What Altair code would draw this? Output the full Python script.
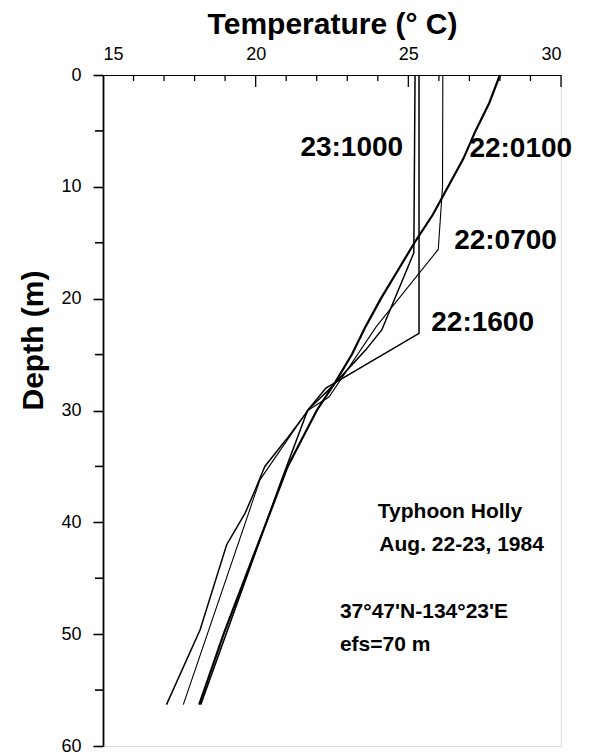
import altair as alt
import pandas as pd

# ---- data ----
depth_0100 = [0, 2.5, 5, 7.5, 10, 12.5, 15, 17.5, 20, 22.5, 25, 27.5, 30, 35, 40, 45, 50, 56.3]
temp_0100 = [28.0, 27.65, 27.2, 26.8, 26.3, 25.8, 25.2, 24.65, 24.1, 23.6, 23.15, 22.6, 22.0, 21.05, 20.35, 19.65, 18.95, 18.15]

depth_0700 = [0, 10, 15.6, 18.0, 22.5, 28.8, 30.0, 36.2, 56.3]
temp_0700 = [26.13, 26.12, 25.98, 25.27, 23.95, 22.4, 21.7, 20.14, 17.63]

depth_1600 = [0, 23.1, 28.0, 30.0, 36.2, 56.3]
temp_1600 = [25.35, 25.35, 22.3, 21.7, 20.85, 18.2]

depth_1000 = [0, 15.9, 22.8, 24.6, 28.0, 29.7, 32.6, 35.0, 37.0, 39.2, 42.0, 49.6, 56.3]
temp_1000 = [25.22, 25.18, 24.13, 23.6, 22.45, 21.8, 21.0, 20.3, 20.0, 19.65, 19.05, 18.18, 17.08]

profiles = [
    ("22:0100", depth_0100, temp_0100, 2.2),
    ("22:0700", depth_0700, temp_0700, 1.1),
    ("22:1600", depth_1600, temp_1600, 1.5),
    ("23:1000", depth_1000, temp_1000, 1.5),
]

x_major = [15, 20, 25, 30]
x_minor = list(range(15, 31))
y_major = [0, 10, 20, 30, 40, 50, 60]
y_minor = [5, 15, 25, 35, 45, 55]

label_text = ["23:1000", "22:0100", "22:0700", "22:1600"]
label_temp = [24.83, 27.0, 26.5, 25.75]
label_depth = [6.5, 6.6, 14.8, 22.2]
label_align = ["right", "left", "left", "left"]

note_text = ["Typhoon Holly", "Aug. 22-23, 1984", "37°47'N-134°23'E", "efs=70 m"]
note_temp = [24.0, 24.05, 22.76, 22.76]
note_depth = [39.1, 42.0, 48.0, 51.0]

FONT = "Liberation Sans"

rows = []
for name, ds, ts, w in profiles:
    for i, (d, t) in enumerate(zip(ds, ts)):
        rows.append({"profile": name, "depth": d, "temp": t, "order": i, "w": w})
df = pd.DataFrame(rows)

xscale = alt.Scale(domain=[15, 30], nice=False, zero=False)
yscale = alt.Scale(domain=[0, 60], reverse=True, nice=False, zero=False)

base_x = alt.X("temp:Q", scale=xscale,
               axis=alt.Axis(orient="top", values=x_major, title="Temperature (° C)",
                             tickSize=0, labelPadding=12, labelFontSize=18,
                             labelFont=FONT, titleFont=FONT, titleFontSize=30,
                             titleFontWeight="bold", titlePadding=6,
                             domainColor="black", domainWidth=1.2, labelColor="black",
                             titleColor="black", grid=False))
base_y = alt.Y("depth:Q", scale=yscale,
               axis=alt.Axis(values=y_major, title="Depth (m)", tickSize=10,
                             tickColor="black", tickWidth=1.6, labelPadding=12,
                             labelFontSize=18, labelFont=FONT, titleFont=FONT,
                             titleFontSize=30, titleFontWeight="bold",
                             titleX=-55, titleY=265, titleAlign="center",
                             domainColor="black", domainWidth=1.8,
                             labelColor="black", titleColor="black", grid=False))

lines = []
for name, ds, ts, w in profiles:
    sub = df[df.profile == name]
    lines.append(
        alt.Chart(sub).mark_line(color="black", strokeWidth=w, clip=False).encode(
            x=base_x, y=base_y, order="order:Q"
        )
    )

# inward ticks on top axis
xt_major = alt.Chart(pd.DataFrame({"t": x_major[1:]})).mark_rule(color="black", strokeWidth=1.3).encode(
    x=alt.X("t:Q", scale=xscale), y=alt.value(0), y2=alt.value(12))
xt_minor = alt.Chart(pd.DataFrame({"t": [v for v in x_minor if v not in x_major]})).mark_rule(
    color="black", strokeWidth=1.3).encode(
    x=alt.X("t:Q", scale=xscale), y=alt.value(0), y2=alt.value(6))
# minor ticks on depth axis
yt_minor = alt.Chart(pd.DataFrame({"d": y_minor})).mark_rule(color="black", strokeWidth=1.6).encode(
    y=alt.Y("d:Q", scale=yscale), x=alt.value(-8), x2=alt.value(0))

lab_df = pd.DataFrame({"text": label_text, "temp": label_temp,
                       "depth": label_depth, "align": label_align})
labels = alt.Chart(lab_df).transform_filter(
    "datum.align == 'left'").mark_text(font=FONT, fontSize=28, fontWeight="bold",
                                          align="left", baseline="middle", color="black").encode(
    x=alt.X("temp:Q", scale=xscale), y=alt.Y("depth:Q", scale=yscale), text="text:N")
labels_r = alt.Chart(lab_df).transform_filter(
    "datum.align == 'right'").mark_text(font=FONT, fontSize=28, fontWeight="bold",
                                           align="right", baseline="middle", color="black").encode(
    x=alt.X("temp:Q", scale=xscale), y=alt.Y("depth:Q", scale=yscale), text="text:N")

notes = alt.Chart(pd.DataFrame({"text": note_text, "temp": note_temp, "depth": note_depth})).mark_text(
    font=FONT, fontSize=21, fontWeight="bold", align="left", baseline="middle", color="black").encode(
    x=alt.X("temp:Q", scale=xscale), y=alt.Y("depth:Q", scale=yscale), text="text:N")

chart = alt.layer(*lines, xt_major, xt_minor, yt_minor, labels, labels_r, notes).properties(
    width=458, height=671,
    autosize=alt.AutoSizeParams(type="none"),
    padding={"left": 103, "top": 75, "right": 45, "bottom": 10},
).configure_view(stroke=None).configure(background="white")

chart.save("out.html", embed_options={"renderer": "svg", "actions": False})
